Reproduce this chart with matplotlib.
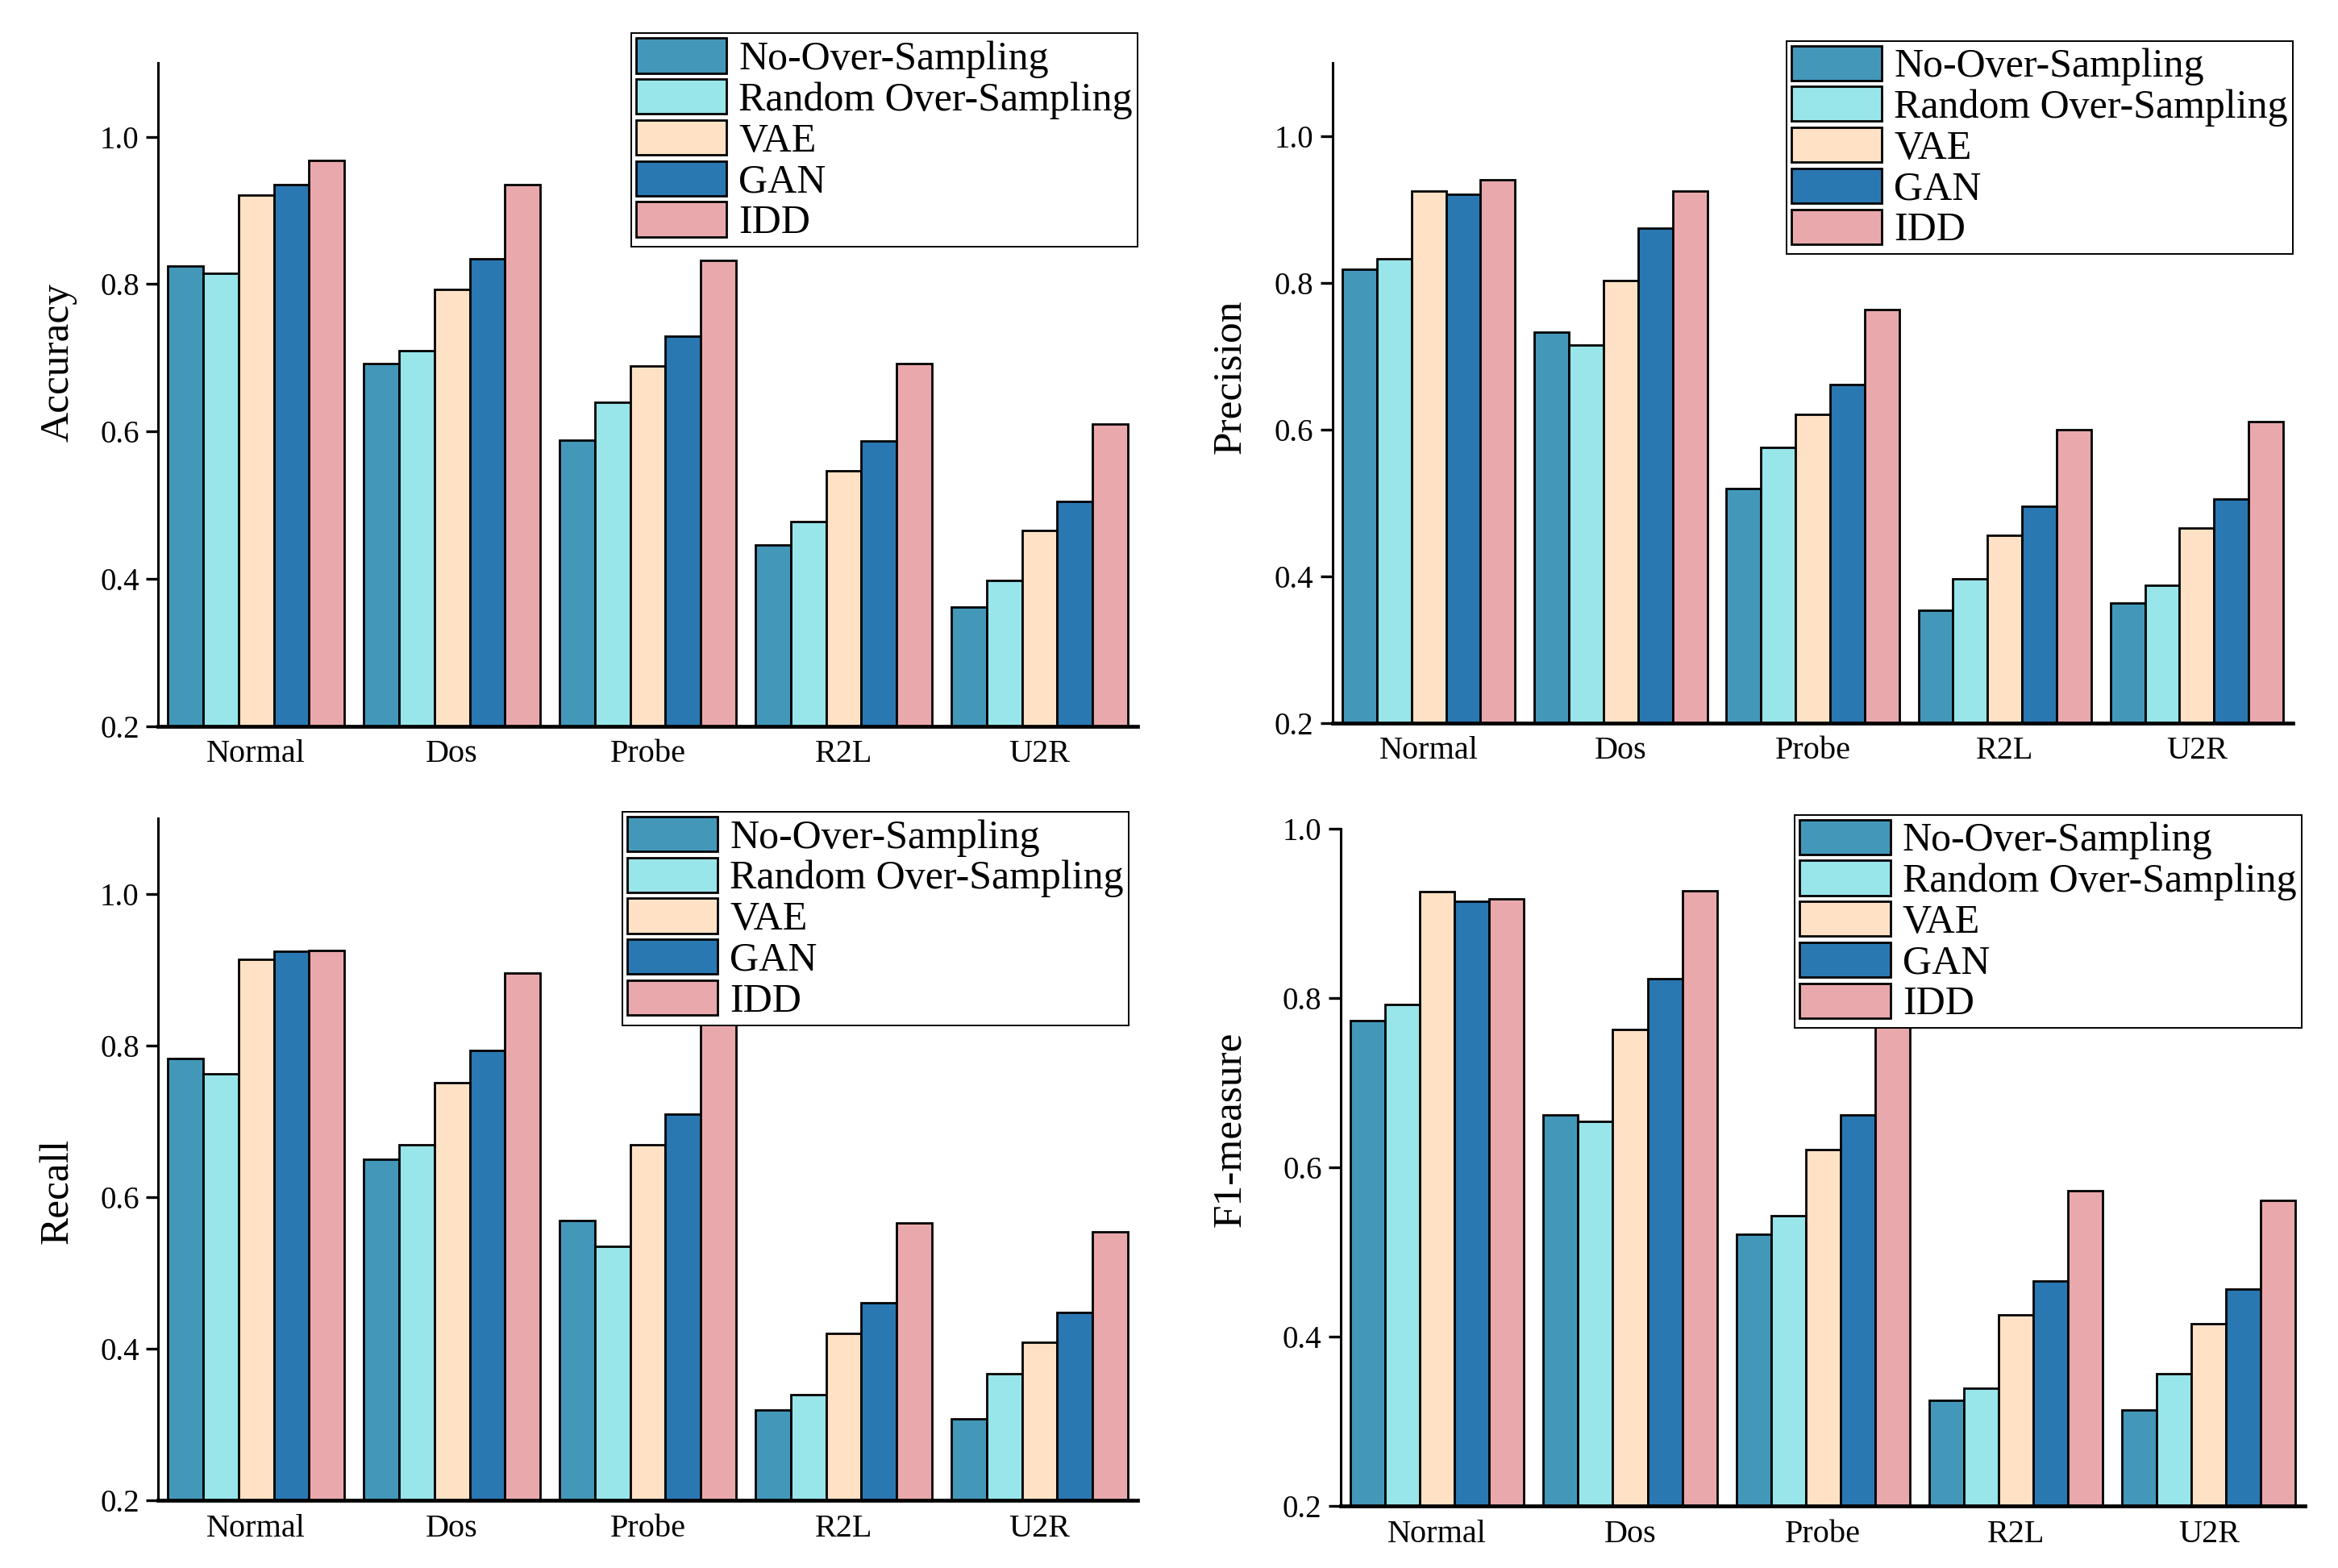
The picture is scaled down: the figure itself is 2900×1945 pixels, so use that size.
import numpy as np
import matplotlib
matplotlib.use('Agg')
import matplotlib.pyplot as plt

plt.rcParams['font.family'] = ['Liberation Serif', 'DejaVu Serif']

categories = ['Normal', 'Dos', 'Probe', 'R2L', 'U2R']
methods = ['No-Over-Sampling', 'Random Over-Sampling', 'VAE', 'GAN', 'IDD']
colors = ['#4398BA', '#98E5EA', '#FFE2C6', '#2A78B2', '#E9A9AC']

# rows = methods, columns = categories
accuracy = [
    [0.825, 0.692, 0.588, 0.446, 0.362],
    [0.815, 0.710, 0.640, 0.478, 0.398],
    [0.921, 0.793, 0.689, 0.547, 0.466],
    [0.935, 0.834, 0.729, 0.587, 0.505],
    [0.968, 0.935, 0.832, 0.692, 0.610],
]
precision = [
    [0.819, 0.733, 0.520, 0.354, 0.363],
    [0.833, 0.715, 0.576, 0.397, 0.388],
    [0.925, 0.804, 0.621, 0.456, 0.466],
    [0.921, 0.875, 0.662, 0.496, 0.505],
    [0.941, 0.926, 0.764, 0.600, 0.611],
]
recall = [
    [0.783, 0.650, 0.569, 0.319, 0.307],
    [0.762, 0.669, 0.535, 0.339, 0.367],
    [0.913, 0.751, 0.669, 0.420, 0.408],
    [0.924, 0.793, 0.709, 0.461, 0.448],
    [0.925, 0.895, 0.830, 0.566, 0.554],
]
f1 = [
    [0.773, 0.662, 0.521, 0.325, 0.314],
    [0.792, 0.654, 0.543, 0.339, 0.356],
    [0.925, 0.763, 0.621, 0.426, 0.415],
    [0.914, 0.823, 0.662, 0.466, 0.456],
    [0.917, 0.926, 0.780, 0.572, 0.561],
]

fig = plt.figure(figsize=(14.5, 9.725), dpi=200)

# [left, bottom, width, height], ylim top, legend anchor, ylabel coords
panels = [
    (accuracy, 'Accuracy', [0.0677, 0.537, 0.4188, 0.4227], 1.1, (1.0, 1.045), (-0.083, 0.548)),
    (precision, 'Precision', [0.570, 0.539, 0.4107, 0.4207], 1.1, (1.0, 1.034), (-0.087, 0.525)),
    (recall, 'Recall', [0.0677, 0.0432, 0.4188, 0.4352], 1.1, (0.991, 1.009), (-0.083, 0.453)),
    (f1, 'F1-measure', [0.5735, 0.0394, 0.4125, 0.4323], 1.0, (0.996, 1.02), (-0.095, 0.556)),
]

x = np.arange(len(categories))
w = 0.18

for data, ylabel, rect, ytop, anchor, lab_xy in panels:
    ax = fig.add_axes(rect)
    for i, m in enumerate(methods):
        ax.bar(x + (i - 2) * w, data[i], w, color=colors[i], edgecolor='black',
               linewidth=1.0, label=m, zorder=2)
    ax.set_xlim(-0.5, 4.5)
    ax.set_ylim(0.2, ytop)
    ax.set_yticks([0.2, 0.4, 0.6, 0.8, 1.0])
    ax.set_yticklabels(['0.2', '0.4', '0.6', '0.8', '1.0'])
    ax.set_xticks(x)
    ax.set_xticklabels(categories)
    ax.spines['top'].set_visible(False)
    ax.spines['right'].set_visible(False)
    ax.spines['left'].set_linewidth(1.1)
    ax.spines['bottom'].set_linewidth(1.7)
    ax.tick_params(axis='y', direction='out', length=5.5, width=1.2, labelsize=14, pad=3)
    ax.tick_params(axis='x', length=0, labelsize=14.5, pad=6)
    ax.set_ylabel(ylabel, fontsize=18.5)
    ax.yaxis.set_label_coords(*lab_xy)
    leg = ax.legend(loc='upper right', bbox_to_anchor=anchor, fontsize=18.0,
                    frameon=True, fancybox=False, framealpha=1, edgecolor='black',
                    borderaxespad=0, borderpad=0.12, handlelength=2.25,
                    handleheight=0.95, labelspacing=0.02, handletextpad=0.3)
    leg.get_frame().set_linewidth(0.7)
    leg.set_zorder(5)

fig.savefig('out.png', dpi=200)
